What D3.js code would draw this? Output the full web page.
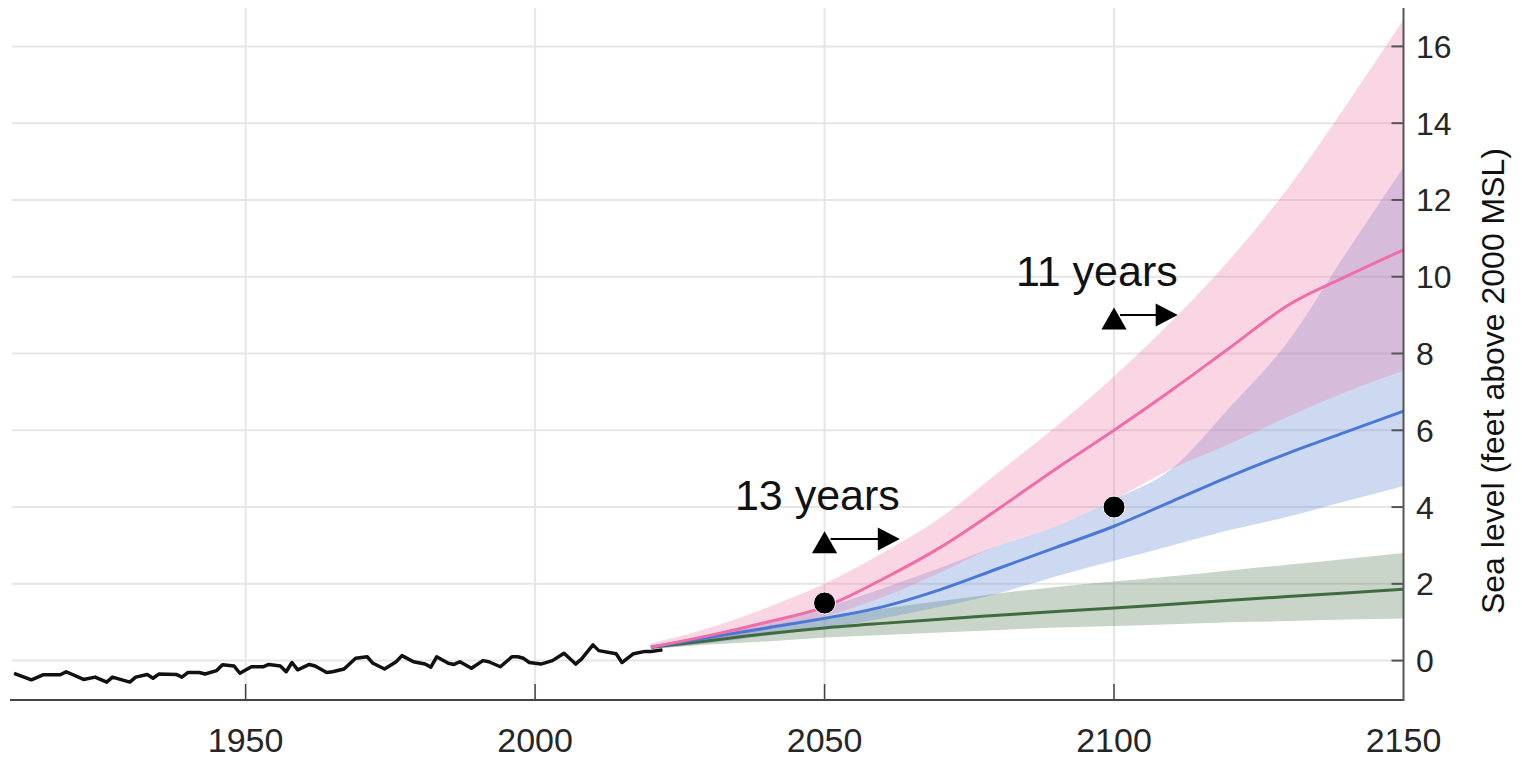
<!DOCTYPE html>
<html><head><meta charset="utf-8">
<script src="https://cdn.jsdelivr.net/npm/d3@7"></script>
<style>
body{margin:0;background:#fff;}
text{font-family:"Liberation Sans",Arial,Helvetica,sans-serif;}
</style>
</head><body>
<svg id="chart" width="1522" height="758"></svg>
<script>
// ---- data ----
const obsYears = [1910,1913,1915,1918,1919,1922,1924,1926,1927,1930,1931,1933,1934,1935,1938,1939,1940,1942,1943,1945,1946,1948,1949,1951,1953,1954,1956,1957,1958,1959,1961,1962,1964,1965,1967,1969,1971,1972,1974,1976,1977,1979,1981,1982,1983,1985,1986,1987,1989,1991,1992,1994,1996,1997,1998,1999,2001,2003,2005,2007,2008,2010,2011,2014,2015,2017,2019,2020,2022];
const obsValues = [-0.33,-0.50,-0.37,-0.37,-0.29,-0.49,-0.43,-0.56,-0.43,-0.56,-0.43,-0.36,-0.46,-0.35,-0.36,-0.43,-0.31,-0.31,-0.35,-0.26,-0.11,-0.14,-0.33,-0.16,-0.16,-0.10,-0.14,-0.29,-0.05,-0.24,-0.10,-0.14,-0.31,-0.29,-0.22,0.06,0.10,-0.07,-0.22,-0.03,0.13,-0.03,-0.09,-0.17,0.10,-0.07,-0.10,-0.03,-0.20,0.00,-0.03,-0.16,0.10,0.10,0.06,-0.05,-0.09,0.00,0.19,-0.09,0.04,0.41,0.26,0.18,-0.05,0.18,0.24,0.24,0.28];

const projYears = [2020,2030,2040,2050,2060,2070,2080,2090,2100,2110,2120,2130,2140,2150];
// low scenario (green)
const lowMed = [0.35,0.52,0.70,0.85,0.97,1.08,1.18,1.28,1.37,1.47,1.57,1.67,1.76,1.86];
const lowLo  = [0.30,0.42,0.50,0.60,0.67,0.73,0.80,0.86,0.90,0.95,1.00,1.03,1.07,1.10];
const lowHi  = [0.40,0.65,0.90,1.15,1.35,1.55,1.75,1.92,2.06,2.20,2.35,2.50,2.65,2.80];
// intermediate scenario (blue)
const intMed = [0.35,0.60,0.85,1.10,1.40,1.85,2.40,2.95,3.50,4.15,4.80,5.40,5.95,6.50];
const intLo  = [0.30,0.45,0.65,0.85,1.10,1.40,1.75,2.20,2.60,3.00,3.40,3.75,4.15,4.55];
const intHi  = [0.40,0.62,0.97,1.38,1.88,2.42,3.00,3.50,4.20,5.00,6.60,8.30,10.60,12.85];
// high scenario (pink)
const highMed = [0.35,0.65,1.00,1.40,2.12,2.95,3.95,5.00,6.00,7.05,8.15,9.25,10.00,10.70];
const highLo  = [0.30,0.50,0.80,1.15,1.65,2.30,3.00,3.50,4.20,5.00,5.65,6.35,7.00,7.55];
const highHi  = [0.45,0.85,1.38,2.00,2.80,3.72,4.90,6.10,7.40,8.85,10.45,12.30,14.45,16.70];

const dotYears = [2050,2100];
const dotValues = [1.5,4.0];

const annYears = [2050,2100];
const annShift = [13,11];
const annLevel = [3.17,9.0];
const annLabels = ["13 years","11 years"];

const xTicks = [1950,2000,2050,2100,2150];
const yTicks = [0,2,4,6,8,10,12,14,16];
const yTitle = "Sea level (feet above 2000 MSL)";

// ---- chart ----
const svg = d3.select("#chart");
const pLeft = 10, pRight = 1403.5, pTop = 8, pBottom = 699;
const x = d3.scaleLinear().domain([1909.3,2150]).range([pLeft,pRight]);
const y = d3.scaleLinear().domain([-1,17]).range([pBottom,pTop]);
const curve = d3.curveMonotoneX;

// grid
const grid = svg.append("g");
grid.selectAll("line.h").data(yTicks).join("line").attr("class","h")
  .attr("x1", pLeft+2).attr("x2", pRight).attr("y1", d=>y(d)).attr("y2", d=>y(d))
  .attr("stroke","#e6e6e6").attr("stroke-width",2);
grid.selectAll("line.v").data(xTicks.slice(0,4)).join("line").attr("class","v")
  .attr("y1", pTop).attr("y2", pBottom).attr("x1", d=>x(d)).attr("x2", d=>x(d))
  .attr("stroke","#e6e6e6").attr("stroke-width",2);

function band(lo, hi){
  return d3.area().curve(curve).x((d,i)=>x(projYears[i])).y0((d,i)=>y(lo[i])).y1((d,i)=>y(hi[i]))(projYears);
}
function line(vals){
  return d3.line().curve(curve).x((d,i)=>x(projYears[i])).y((d,i)=>y(vals[i]))(projYears);
}
const plot = svg.append("g");
plot.append("path").attr("d", band(lowLo, lowHi)).attr("fill","rgb(72,115,72)").attr("fill-opacity",0.3);
plot.append("path").attr("d", band(intLo, intHi)).attr("fill","rgb(100,140,210)").attr("fill-opacity",0.33);
plot.append("path").attr("d", band(highLo, highHi)).attr("fill","rgb(240,120,170)").attr("fill-opacity",0.3);

plot.append("path").attr("d", line(lowMed)).attr("fill","none").attr("stroke","#3f6b3f").attr("stroke-width",3);
plot.append("path").attr("d", line(intMed)).attr("fill","none").attr("stroke","#4a78d6").attr("stroke-width",3);
plot.append("path").attr("d", line(highMed)).attr("fill","none").attr("stroke","#f06ea8").attr("stroke-width",3);

plot.append("path")
  .attr("d", d3.line().x((d,i)=>x(obsYears[i])).y((d,i)=>y(obsValues[i]))(obsYears))
  .attr("fill","none").attr("stroke","#111").attr("stroke-width",3.5).attr("stroke-linejoin","round");

// dots
plot.selectAll("circle").data(dotYears).join("circle")
  .attr("cx", d=>x(d)).attr("cy", (d,i)=>y(dotValues[i])).attr("r",11)
  .attr("fill","#000").attr("stroke","#fff").attr("stroke-width",1);

// annotations
const ann = svg.append("g");
annYears.forEach((yr,i)=>{
  const cx = x(yr), ly = y(annLevel[i]), tipX = x(yr+annShift[i]);
  ann.append("path").attr("d", d3.symbol(d3.symbolTriangle, 275)())
    .attr("transform", `translate(${cx},${ly+7})`).attr("fill","#000");
  ann.append("line").attr("x1", cx+6).attr("x2", tipX-20).attr("y1", ly).attr("y2", ly)
    .attr("stroke","#000").attr("stroke-width",2);
  ann.append("path").attr("d", `M${tipX},${ly} L${tipX-22},${ly-11.5} L${tipX-22},${ly+11.5} Z`).attr("fill","#000");
  ann.append("text").attr("x", tipX).attr("y", ly-29).attr("text-anchor","end")
    .attr("font-size",43).attr("fill","#111").text(annLabels[i]);
});

// axes
const ax = svg.append("g");
ax.append("line").attr("x1", pLeft).attr("x2", pRight).attr("y1", pBottom+1).attr("y2", pBottom+1)
  .attr("stroke","#444").attr("stroke-width",2);
ax.append("line").attr("x1", pRight).attr("x2", pRight).attr("y1", pTop).attr("y2", pBottom+2)
  .attr("stroke","#555").attr("stroke-width",2);
ax.selectAll("line.xt").data(xTicks.slice(0,4)).join("line").attr("class","xt")
  .attr("x1", d=>x(d)).attr("x2", d=>x(d)).attr("y1", pBottom).attr("y2", pBottom-15)
  .attr("stroke","#444").attr("stroke-width",1.5);
ax.selectAll("line.yt").data(yTicks).join("line").attr("class","yt")
  .attr("x1", pRight-12).attr("x2", pRight).attr("y1", d=>y(d)).attr("y2", d=>y(d))
  .attr("stroke","#555").attr("stroke-width",2);
ax.selectAll("text.xl").data(xTicks).join("text").attr("class","xl")
  .attr("x", d=>x(d)).attr("y", 752).attr("text-anchor","middle")
  .attr("font-size",34).attr("fill","#262626").text(d=>d);
ax.selectAll("text.yl").data(yTicks).join("text").attr("class","yl")
  .attr("x", 1416).attr("y", d=>y(d)).attr("dy","0.36em")
  .attr("font-size",32).attr("fill","#262626").text(d=>d);
ax.append("text").attr("transform","translate(1504,381) rotate(-90)")
  .attr("text-anchor","middle").attr("font-size",32).attr("fill","#111").text(yTitle);
</script>
</body></html>
